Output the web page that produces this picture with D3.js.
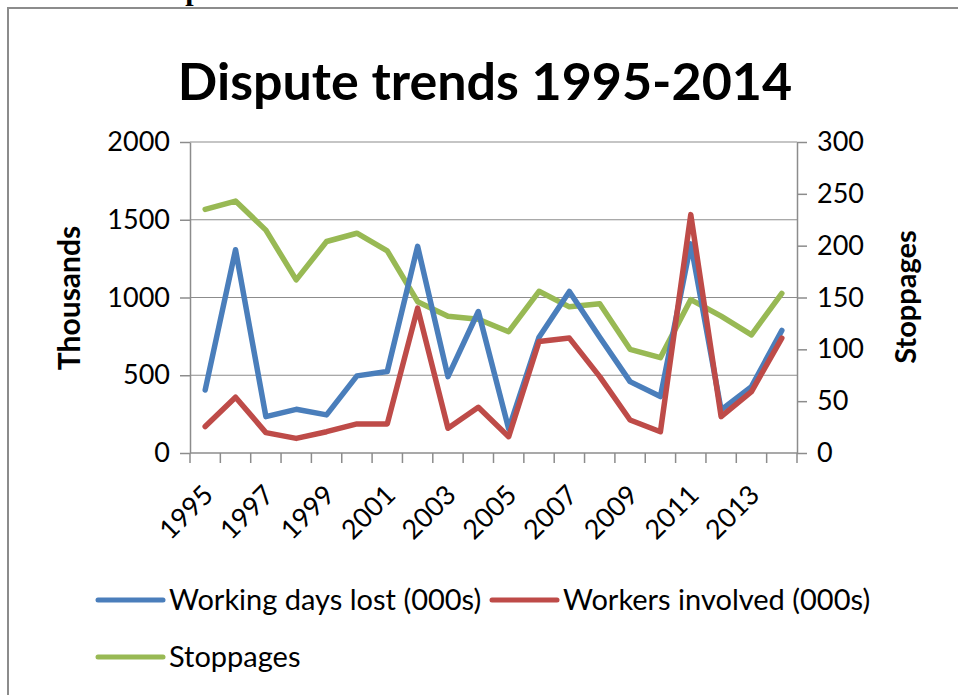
<!DOCTYPE html>
<html>
<head>
<meta charset="utf-8">
<script src="https://cdn.jsdelivr.net/npm/d3@7"></script>
<style>
  body { margin: 0; background: #fff; }
  text { font-family: Lato, "Open Sans", sans-serif; fill: #000; }
</style>
</head>
<body>
<div id="chart"></div>
<script>
// data
const years = [1995,1996,1997,1998,1999,2000,2001,2002,2003,2004,2005,2006,2007,2008,2009,2010,2011,2012,2013,2014];
const daysLost = [405,1307,234,281,245,496,524,1329,491,910,155,745,1039,745,459,363,1345,277,427,788];
const workers  = [170,359,131,94,137,187,187,932,159,294,105,717,739,491,212,137,1533,234,395,739];
const stoppages = [235,243,215,167,204,212,195,146,132,129,117,156,141,144,100,92,148,132,114,154];
const leftTicks = [0,500,1000,1500,2000];
const rightTicks = [0,50,100,150,200,250,300];
const labelYears = [1995,1997,1999,2001,2003,2005,2007,2009,2011,2013];

const W = 958, H = 695;
const margin = {top: 142, right: 161, bottom: 242, left: 190},
  width = W - margin.left - margin.right,
  height = H - margin.top - margin.bottom;

const svg = d3.select("#chart").append("svg")
  .attr("width", W).attr("height", H);

svg.append("rect").attr("width", W).attr("height", H).attr("fill", "#fff");

// clipped heading from the page above the chart
svg.append("text")
  .attr("x", 27).attr("y", 0)
  .style("font-family", "'Liberation Serif', serif")
  .style("font-weight", "bold").style("font-size", "30px")
  .text("Chart 8: Dispute trends");

// chart frame
svg.append("path")
  .attr("d", `M8,${H + 5}V8H${W + 5}`)
  .attr("fill", "none").attr("stroke", "#8c8c8c").attr("stroke-width", 2);

// title
svg.append("text")
  .attr("x", 485).attr("y", 100)
  .attr("text-anchor", "middle")
  .style("font-weight", "bold").style("font-size", "52px")
  .text("Dispute trends 1995-2014");

const g = svg.append("g").attr("transform", `translate(${margin.left},${margin.top})`);

const x = d3.scaleBand().domain(years).range([0, width]);
const yL = d3.scaleLinear().domain([0, 2000]).range([height, 0]);
const yR = d3.scaleLinear().domain([0, 300]).range([height, 0]);

const axisColor = "#8c8c8c";

// gridlines
g.append("g").selectAll("line")
  .data(leftTicks.filter(d => d > 0))
  .join("line")
  .attr("x1", 0).attr("x2", width)
  .attr("y1", d => yL(d)).attr("y2", d => yL(d))
  .attr("stroke", axisColor).attr("stroke-width", 1.2);

// left axis
const leftAxis = g.append("g")
  .call(d3.axisLeft(yL).tickValues(leftTicks).tickFormat(d3.format("d"))
    .tickSize(10).tickPadding(10).tickSizeOuter(0));
// right axis
const rightAxis = g.append("g")
  .attr("transform", `translate(${width},0)`)
  .call(d3.axisRight(yR).tickValues(rightTicks).tickFormat(d3.format("d"))
    .tickSize(10).tickPadding(10).tickSizeOuter(0));

[leftAxis, rightAxis].forEach(a => {
  a.select(".domain").attr("stroke", axisColor).attr("stroke-width", 1.5);
  a.selectAll(".tick line").attr("stroke", axisColor).attr("stroke-width", 1.5);
  a.selectAll(".tick text").style("font-size", "27px").style("font-family", "Lato, sans-serif").attr("fill", "#000");
});

// x axis: ticks at band edges
const xAxis = g.append("g").attr("transform", `translate(0,${height})`);
xAxis.append("line").attr("x1", 0).attr("x2", width)
  .attr("stroke", axisColor).attr("stroke-width", 1.5);
const edges = years.map(d => x(d)).concat([width]);
xAxis.selectAll(".xt").data(edges).join("line")
  .attr("class", "xt")
  .attr("x1", d => d).attr("x2", d => d)
  .attr("y1", 0).attr("y2", 10)
  .attr("stroke", axisColor).attr("stroke-width", 1.5);
xAxis.selectAll(".xl").data(labelYears).join("text")
  .attr("class", "xl")
  .attr("transform", d => `translate(${x(d) + x.bandwidth() / 2 + 3},${37}) rotate(-45)`)
  .attr("text-anchor", "end")
  .attr("dy", "0.35em")
  .style("font-size", "27px")
  .text(d => d);

// axis titles
svg.append("text")
  .attr("transform", "translate(80,298) rotate(-90)")
  .attr("text-anchor", "middle")
  .style("font-weight", "bold").style("font-size", "30px")
  .text("Thousands");
svg.append("text")
  .attr("transform", "translate(916,297) rotate(-90)")
  .attr("text-anchor", "middle")
  .style("font-weight", "bold").style("font-size", "29px")
  .text("Stoppages");

// series
const cx = d => x(d) + x.bandwidth() / 2;
const series = [
  {name: "Working days lost (000s)", vals: daysLost, scale: yL, color: "#4a7ebb"},
  {name: "Workers involved (000s)", vals: workers, scale: yL, color: "#be4b48"},
  {name: "Stoppages", vals: stoppages, scale: yR, color: "#98b954"}
];

// green drawn first (behind), then blue, then red
[series[2], series[0], series[1]].forEach(s => {
  const line = d3.line()
    .x((d, i) => cx(years[i]))
    .y(d => s.scale(d));
  g.append("path")
    .datum(s.vals)
    .attr("d", line)
    .attr("fill", "none")
    .attr("stroke", s.color)
    .attr("stroke-width", 5.5)
    .attr("stroke-linejoin", "round")
    .attr("stroke-linecap", "round");
});

// legend
const legendPos = [{x: 98, y: 600}, {x: 492, y: 600}, {x: 98, y: 657}];
series.forEach((s, i) => {
  const lg = svg.append("g").attr("transform", `translate(${legendPos[i].x},${legendPos[i].y})`);
  lg.append("line").attr("x1", 0).attr("x2", 65)
    .attr("stroke", s.color).attr("stroke-width", 5).attr("stroke-linecap", "round");
  lg.append("text").attr("x", 71).attr("dy", "0.35em")
    .style("font-size", "29px")
    .text(s.name);
});
</script>
</body>
</html>
